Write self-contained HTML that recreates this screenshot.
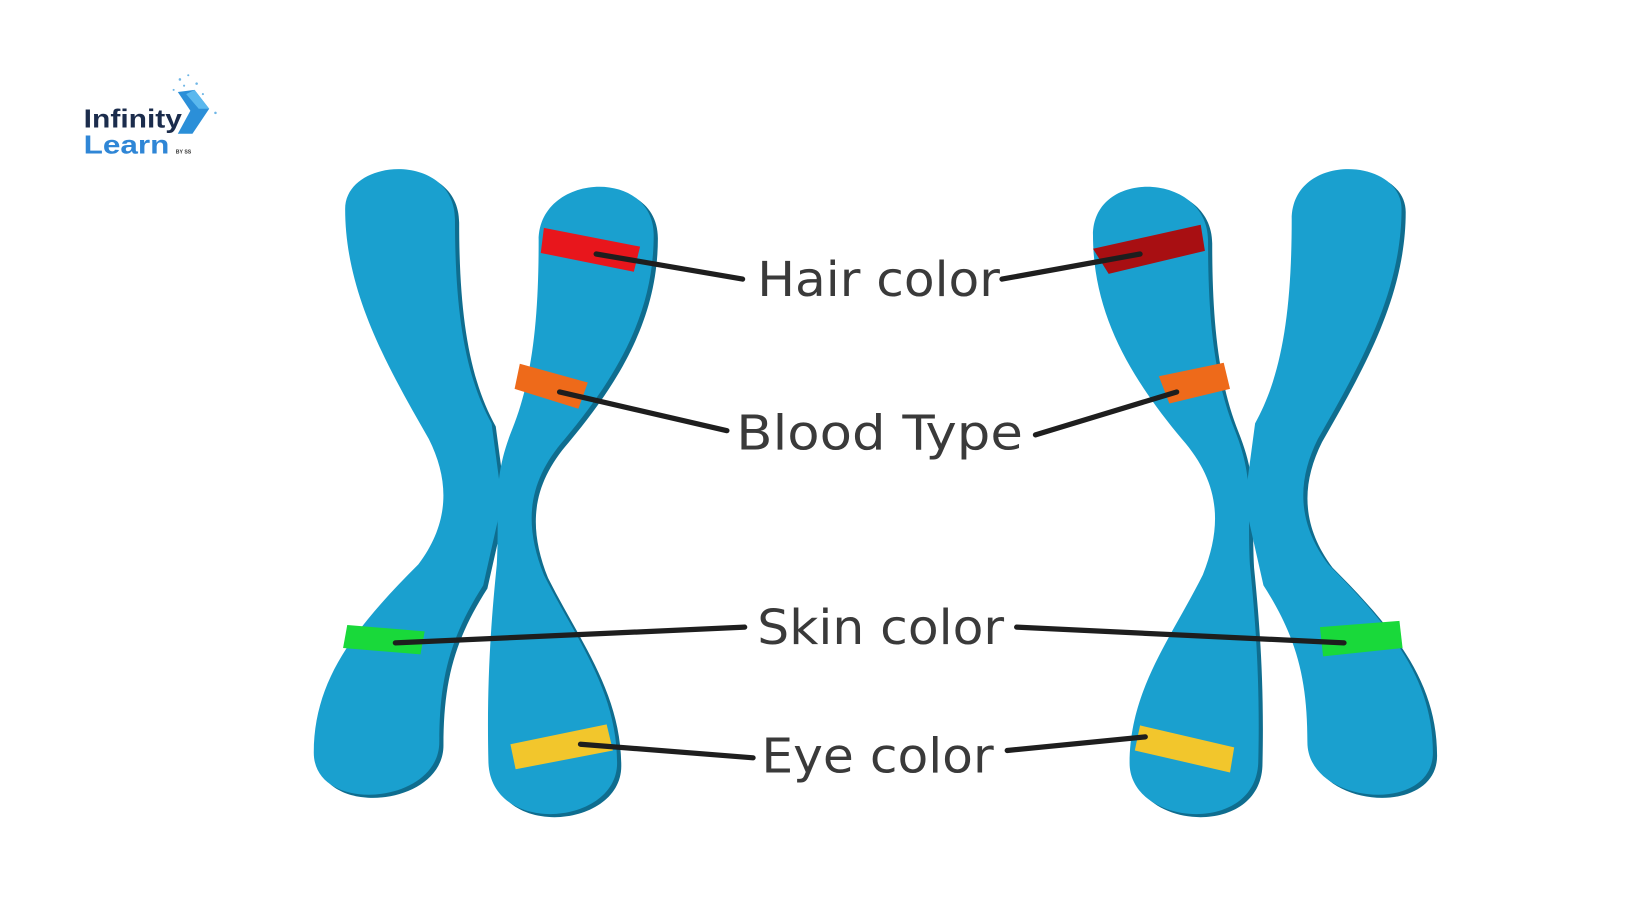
<!DOCTYPE html>
<html><head><meta charset="utf-8"><style>
html,body{margin:0;padding:0;background:#fff;}
svg{display:block;}
</style></head><body>
<svg width="1640" height="924" viewBox="0 0 1568 884" preserveAspectRatio="none" xmlns="http://www.w3.org/2000/svg">
<rect width="1568" height="884" fill="#fff"/>
<!-- logo -->
<g font-family="Liberation Sans, sans-serif" font-weight="bold">
<text x="80" y="122" font-size="25" fill="#1b2c4c" textLength="94" lengthAdjust="spacingAndGlyphs">Infinity</text>
<text x="80" y="147" font-size="25" fill="#2f86d6" textLength="82" lengthAdjust="spacingAndGlyphs">Learn</text>
<text x="168" y="147" font-size="5" fill="#333">BY SS</text>
<polygon points="170,88 186,86 200,104 184,128 170,128 182,106" fill="#2b8fd8"/>
<polygon points="178,90 186,86 200,104 190,104" fill="#5ab8ee"/>
<g fill="#6fb6e6"><circle cx="172" cy="76" r="1.2"/><circle cx="180" cy="72" r="1"/><circle cx="188" cy="80" r="1.2"/><circle cx="176" cy="82" r="1"/><circle cx="194" cy="90" r="1"/><circle cx="166" cy="86" r="1"/><circle cx="206" cy="108" r="1.2"/></g>
</g>
<!-- chromosomes -->
<defs>
<g id="chromo">
<path d="M330,200 C330,150 435,145 435,210 C435,300 445,360 470,405 L480,480 L462,560 C430,610 420,650 420,710 C420,770 300,780 300,720 C300,650 340,600 400,540 C430,500 430,460 410,420 C370,350 330,280 330,200Z"/>
<path d="M515,230 C515,165 625,160 625,225 C625,300 590,360 540,420 C505,460 500,500 520,550 C550,610 590,660 590,730 C590,790 470,800 467,730 C465,650 470,590 475,540 C478,480 470,460 490,410 C510,360 515,300 515,230Z"/>
</g>
</defs>
<g fill="#0f6d8f" transform="translate(4,3)"><use href="#chromo"/></g>
<g fill="#1aa0cf"><use href="#chromo"/></g>
<g fill="#0f6d8f" transform="translate(1674,3) scale(-1,1)"><use href="#chromo"/></g>
<g fill="#1aa0cf" transform="translate(1670,0) scale(-1,1)"><use href="#chromo"/></g>
<!-- bands -->
<polygon points="520,218 612,236 606,260 517,242" fill="#e8161c"/>
<polygon points="1045,238 1148,215 1152,240 1060,262" fill="#a80f12"/>
<polygon points="497,348 562,366 553,391 492,372" fill="#ee6a1a"/>
<polygon points="1108,360 1170,347 1176,372 1118,386" fill="#ee6a1a"/>
<polygon points="332,598 406,604 402,626 328,620" fill="#19d93a"/>
<polygon points="1262,600 1338,594 1341,620 1265,628" fill="#19d93a"/>
<polygon points="488,712 580,693 586,718 493,736" fill="#f2c62c"/>
<polygon points="1090,694 1180,715 1176,739 1085,718" fill="#f2c62c"/>
<!-- connectors -->
<g stroke="#1e1e1e" stroke-width="5" stroke-linecap="round" fill="none">
<line x1="570" y1="243" x2="710" y2="267"/>
<line x1="958" y1="267" x2="1090" y2="243"/>
<line x1="535" y1="375" x2="695" y2="412"/>
<line x1="990" y1="416" x2="1125" y2="375"/>
<line x1="378" y1="615" x2="712" y2="600"/>
<line x1="972" y1="600" x2="1285" y2="615"/>
<line x1="555" y1="712" x2="720" y2="725"/>
<line x1="963" y1="718" x2="1095" y2="705"/>
</g>
<!-- labels -->
<g font-family="DejaVu Sans Condensed, DejaVu Sans, Liberation Sans, sans-serif" font-size="46" fill="#3a3a3a" lengthAdjust="spacingAndGlyphs">
<text x="724" y="283" textLength="232" lengthAdjust="spacingAndGlyphs">Hair color</text>
<text x="704" y="430" textLength="274" lengthAdjust="spacingAndGlyphs">Blood Type</text>
<text x="724" y="616" textLength="236" lengthAdjust="spacingAndGlyphs">Skin color</text>
<text x="728" y="739" textLength="222" lengthAdjust="spacingAndGlyphs">Eye color</text>
</g>
</svg>
</body></html>
